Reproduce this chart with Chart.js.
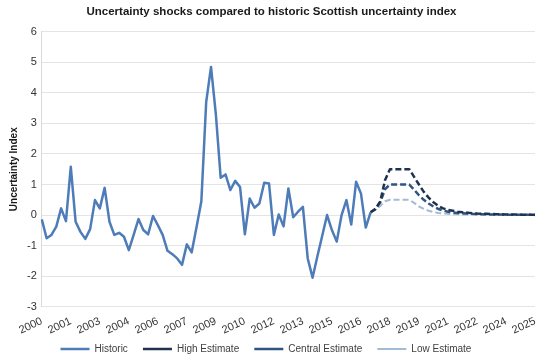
<!DOCTYPE html>
<html>
<head>
<meta charset="utf-8">
<script src="https://cdn.jsdelivr.net/npm/chart.js@4.4.1/dist/chart.umd.min.js"></script>
<style>
  body { margin: 0; background: #fff; }
  #wrap { width: 551px; height: 358px; }
</style>
</head>
<body>
<div id="wrap"><canvas id="myChart" width="551" height="358"></canvas></div>
<script>
// quarterly index, 2000 Q1 .. 2025 Q3
const tickLabels = ['2000', '2001', '2003', '2004', '2006', '2007', '2009', '2010', '2012',
    '2013', '2015', '2016', '2018', '2019', '2021', '2022', '2024', '2025'];

const seriesNames = ['Historic', 'High Estimate', 'Central Estimate', 'Low Estimate'];

const historic = [
    -0.14, -0.76, -0.65, -0.38, 0.22, -0.2, 1.58, -0.22, -0.55, -0.78,
    -0.46, 0.49, 0.22, 0.89, -0.22, -0.65, -0.58, -0.71, -1.15, -0.65,
    -0.13, -0.49, -0.63, -0.03, -0.33, -0.65, -1.17, -1.28, -1.42, -1.63,
    -0.96, -1.22, -0.4, 0.45, 3.7, 4.85, 3.3, 1.22, 1.33, 0.82,
    1.12, 0.92, -0.63, 0.54, 0.24, 0.38, 1.06, 1.03, -0.65, 0.02,
    -0.37, 0.87, -0.07, 0.11, 0.27, -1.42, -2.05, -1.35, -0.68, 0.0,
    -0.49, -0.87, 0.0, 0.49, -0.31, 1.09, 0.71, -0.41, 0.09
];

// estimates start at the last historic quarter (index 68)
const highEstimate = [
    0.09, 0.2, 0.45, 1.15, 1.5, 1.5, 1.5, 1.5, 1.5, 1.25,
    1.0, 0.76, 0.57, 0.42, 0.3, 0.22, 0.17, 0.14, 0.11, 0.09,
    0.08, 0.06, 0.05, 0.045, 0.04, 0.035, 0.03, 0.025, 0.02, 0.02,
    0.015, 0.01, 0.01, 0.01, 0.01
];
const centralEstimate = [
    0.09, 0.2, 0.42, 0.85, 1.0, 1.0, 1.0, 1.0, 1.0, 0.83,
    0.65, 0.5, 0.38, 0.28, 0.2, 0.15, 0.11, 0.09, 0.07, 0.06,
    0.05, 0.04, 0.035, 0.03, 0.025, 0.02, 0.02, 0.015, 0.01, 0.01,
    0.01, 0.01, 0.01, 0.01, 0.005
];
const lowEstimate = [
    0.09, 0.17, 0.3, 0.45, 0.5, 0.5, 0.5, 0.5, 0.5, 0.4,
    0.28, 0.2, 0.14, 0.1, 0.07, 0.05, 0.04, 0.03, 0.025, 0.02,
    0.02, 0.015, 0.01, 0.01, 0.01, 0.01, 0.005, 0.005, 0.005, 0.005,
    0.0, 0.0, 0.0, 0.0, 0.0
];

const estimateStart = 68;
const nQuarters = 103;

const labels = [];
for (let i = 0; i < nQuarters; i++) {
    labels.push((2000 + Math.floor(i / 4)) + ' Q' + (i % 4 + 1));
}

function padSeries(vals, start) {
    const out = [];
    for (let i = 0; i < nQuarters; i++) {
        const k = i - start;
        out.push(k >= 0 && k < vals.length ? vals[k] : null);
    }
    return out;
}

Chart.defaults.font.family = "'Liberation Sans', Arial, sans-serif";
Chart.defaults.color = '#404040';

const ctx = document.getElementById('myChart').getContext('2d');
const myChart = new Chart(ctx, {
    type: 'line',
    data: {
        labels,
        datasets: [
            {
                label: seriesNames[0],
                data: padSeries(historic, 0),
                borderColor: '#4d7cb8',
                borderWidth: 2.5
            },
            {
                label: seriesNames[1],
                data: padSeries(highEstimate, estimateStart),
                borderColor: '#1f3350',
                borderWidth: 2.5,
                borderDash: [6, 3]
            },
            {
                label: seriesNames[2],
                data: padSeries(centralEstimate, estimateStart),
                borderColor: '#2f5382',
                borderWidth: 2.5,
                borderDash: [6, 3]
            },
            {
                label: seriesNames[3],
                data: padSeries(lowEstimate, estimateStart),
                borderColor: '#a4bad6',
                borderWidth: 2,
                borderDash: [6, 3]
            }
        ]
    },
    options: {
        responsive: false,
        animation: false,
        spanGaps: false,
        elements: {
            point: { radius: 0 },
            line: { tension: 0, borderJoinStyle: 'round' }
        },
        layout: { padding: { left: 8, right: 16, top: 0, bottom: -6 } },
        plugins: {
            title: {
                display: true,
                text: 'Uncertainty shocks compared to historic Scottish uncertainty index',
                color: '#1a1a1a',
                font: { size: 11.5, weight: 'bold' },
                padding: { top: 5, bottom: 13 }
            },
            legend: {
                position: 'bottom',
                labels: {
                    usePointStyle: true,
                    pointStyle: 'line',
                    pointStyleWidth: 29,
                    boxWidth: 29,
                    boxHeight: 2,
                    padding: 4,
                    color: '#404040',
                    font: { size: 10 },
                    // wider gaps between items without a taller legend box
                    generateLabels: (chart) => {
                        const items = Chart.defaults.plugins.legend.labels.generateLabels(chart);
                        items.forEach((it) => { it.text = it.text + '    '; });
                        return items;
                    }
                }
            },
            tooltip: { enabled: false }
        },
        scales: {
            x: {
                offset: false,
                grid: { display: false },
                border: { display: false },
                afterFit: (scale) => { scale.height += 3; },
                ticks: {
                    autoSkip: false,
                    maxRotation: 25,
                    minRotation: 25,
                    color: '#333',
                    font: { size: 11 },
                    padding: 0,
                    callback: (val, i) => (i % 6 === 0 ? tickLabels[i / 6] : null)
                }
            },
            y: {
                min: -3,
                max: 6,
                ticks: { stepSize: 1, color: '#333', font: { size: 11 }, padding: 5 },
                grid: { color: '#e4e4e4', drawTicks: false },
                border: { display: true, color: '#d9d9d9' },
                title: {
                    display: true,
                    text: 'Uncertainty Index',
                    color: '#1a1a1a',
                    font: { size: 10, weight: 'bold' },
                    padding: { top: 0, bottom: 2 }
                }
            }
        }
    }
});
</script>
</body>
</html>
